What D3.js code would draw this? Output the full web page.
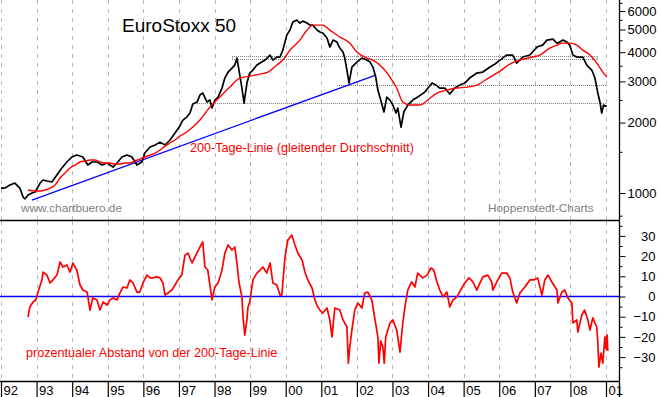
<!DOCTYPE html>
<html>
<head>
<meta charset="utf-8">
<script src="https://cdn.jsdelivr.net/npm/d3@7"></script>
<style>
  html, body { margin: 0; padding: 0; background: #fff; }
  svg { display: block; }
  text { font-family: "Liberation Sans", Arial, sans-serif; }
</style>
</head>
<body>
<svg id="chart" width="660" height="397"></svg>
<script>
// ---------- DATA ----------
const yearTicks = [1992,1993,1994,1995,1996,1997,1998,1999,2000,2001,2002,2003,2004,2005,2006,2007,2008,2009];
const yearLabels = ["92","93","94","95","96","97","98","99","00","01","02","03","04","05","06","07","08","01"];

const priceMajorTicks = [1000,2000,3000,4000,5000,6000];
const priceMinorTicks = [800,1500,2500,3500,4500,5500,6500];
const devMajorTicks = [-30,-20,-10,0,10,20,30];
const devMinorTicks = [-35,-25,-15,-5,5,15,25,35];

// EuroStoxx 50 (year, index points)
const euroStoxx = [
 [1992.00,1050],[1992.11,1050],[1992.25,1082],[1992.39,1103],[1992.53,1050],[1992.62,961],[1992.67,943],
 [1992.76,980],[1992.87,1000],[1992.96,1010],[1993.10,1103],[1993.18,1137],[1993.29,1125],[1993.43,1114],
 [1993.57,1194],[1993.71,1279],[1993.85,1357],[1993.99,1425],[1994.13,1453],[1994.30,1425],[1994.44,1317],
 [1994.56,1357],[1994.70,1357],[1994.84,1317],[1994.98,1344],[1995.15,1291],[1995.26,1344],[1995.40,1425],
 [1995.54,1453],[1995.68,1425],[1995.82,1317],[1995.96,1357],[1996.04,1482],[1996.19,1573],[1996.33,1604],
 [1996.47,1650],[1996.61,1604],[1996.75,1685],[1996.89,1804],[1997.03,1940],[1997.11,2050],[1997.22,2112],
 [1997.31,2197],[1997.39,2400],[1997.51,2448],[1997.59,2623],[1997.67,2675],[1997.79,2448],[1997.87,2497],
 [1997.93,2308],[1998.01,2497],[1998.10,2572],[1998.21,2810],[1998.29,3101],[1998.38,3289],[1998.49,3421],
 [1998.57,3524],[1998.63,3776],[1998.71,3190],[1998.77,2810],[1998.83,2424],[1998.91,2952],[1998.99,3257],
 [1999.08,3355],[1999.19,3524],[1999.28,3593],[1999.42,3701],[1999.56,3889],[1999.64,3701],[1999.75,3813],
 [1999.84,3813],[1999.92,4090],[2000.03,4730],[2000.12,4973],[2000.20,5381],[2000.31,5488],[2000.40,5328],
 [2000.48,5430],[2000.60,5328],[2000.68,5223],[2000.76,5223],[2000.88,4973],[2000.96,4876],[2001.04,4829],
 [2001.16,4597],[2001.24,4207],[2001.33,4506],[2001.44,4418],[2001.52,4166],[2001.61,4006],[2001.66,3776],
 [2001.72,3355],[2001.78,2952],[2001.86,3455],[2002.00,3629],[2002.14,3776],[2002.28,3701],[2002.37,3629],
 [2002.45,3455],[2002.53,3131],[2002.59,2755],[2002.67,2497],[2002.76,2220],[2002.84,2572],[2002.93,2497],
 [2003.01,2377],[2003.10,2197],[2003.15,2308],[2003.24,1914],[2003.32,2220],[2003.43,2377],[2003.57,2497],
 [2003.71,2572],[2003.91,2701],[2004.11,2952],[2004.22,2894],[2004.33,2810],[2004.47,2810],[2004.61,2650],
 [2004.75,2810],[2004.89,2894],[2005.03,2952],[2005.17,3101],[2005.37,3257],[2005.54,3289],[2005.74,3455],
 [2005.88,3560],[2006.02,3701],[2006.21,3889],[2006.38,3889],[2006.49,3593],[2006.66,3813],[2006.86,3889],
 [2007.06,4207],[2007.22,4290],[2007.34,4506],[2007.51,4550],[2007.62,4375],[2007.70,4418],[2007.79,4506],
 [2007.90,4418],[2007.98,4290],[2008.07,3889],[2008.18,3813],[2008.35,3813],[2008.46,3524],[2008.60,3355],
 [2008.69,3101],[2008.77,2675],[2008.83,2448],[2008.88,2197],[2008.93,2377],[2009.02,2350]
];

// 200-day moving average (year, index points)
const movingAvg200 = [
 [1992.76,1030],[1992.96,1020],[1993.10,1020],[1993.24,1030],[1993.38,1050],[1993.52,1082],[1993.66,1159],
 [1993.80,1218],[1993.94,1279],[1994.08,1317],[1994.22,1357],[1994.36,1370],[1994.50,1384],[1994.64,1384],
 [1994.78,1357],[1994.92,1344],[1995.06,1344],[1995.20,1330],[1995.34,1330],[1995.48,1344],[1995.62,1344],
 [1995.76,1370],[1995.90,1397],[1996.04,1425],[1996.19,1453],[1996.33,1482],[1996.47,1527],[1996.61,1587],
 [1996.75,1636],[1996.89,1685],[1997.03,1752],[1997.22,1823],[1997.39,1914],[1997.59,2051],[1997.87,2329],
 [1998.15,2572],[1998.43,2836],[1998.71,3101],[1998.99,3162],[1999.28,3225],[1999.50,3289],[1999.75,3524],
 [1999.92,3701],[2000.12,4081],[2000.40,4506],[2000.60,4973],[2000.76,5223],[2001.04,5223],[2001.24,4973],
 [2001.52,4645],[2001.80,4375],[2002.00,4006],[2002.28,3776],[2002.45,3701],[2002.73,3421],[2002.93,3131],
 [2003.12,2810],[2003.29,2448],[2003.49,2377],[2003.77,2377],[2003.99,2497],[2004.25,2675],[2004.53,2755],
 [2004.81,2810],[2005.09,2836],[2005.37,2894],[2005.74,3131],[2006.02,3322],[2006.30,3558],[2006.58,3701],
 [2006.94,3813],[2007.14,3889],[2007.42,4166],[2007.62,4290],[2007.79,4375],[2007.98,4375],[2008.18,4290],
 [2008.35,4081],[2008.55,3889],[2008.74,3593],[2008.91,3289],[2009.02,3131]
];

// Percentage distance from the 200-day line (year, %)
const deviation = [
 [1992.76,-10.1],[1992.81,-5.2],[1992.90,-2.7],[1992.98,-1.7],[1993.04,2.2],[1993.15,8.2],[1993.18,12.1],
 [1993.29,10.6],[1993.38,6.7],[1993.46,8.2],[1993.57,10.6],[1993.66,17.1],[1993.74,14.6],[1993.85,15.6],
 [1993.94,12.1],[1994.02,16.6],[1994.13,13.1],[1994.22,5.7],[1994.30,3.2],[1994.42,2.2],[1994.50,-6.7],
 [1994.58,-0.7],[1994.70,-1.7],[1994.78,-6.7],[1994.87,-2.7],[1994.98,-4.2],[1995.06,-1.7],[1995.15,-0.7],
 [1995.26,-1.7],[1995.34,1.7],[1995.43,4.7],[1995.54,4.2],[1995.62,8.2],[1995.71,6.7],[1995.82,2.2],
 [1995.90,2.2],[1995.99,6.7],[1996.10,10.6],[1996.19,9.2],[1996.27,9.2],[1996.38,9.7],[1996.47,9.2],
 [1996.55,6.7],[1996.61,0.7],[1996.69,1.7],[1996.80,3.2],[1996.89,5.7],[1996.97,8.2],[1997.08,10.6],
 [1997.17,20.5],[1997.25,21.5],[1997.37,16.6],[1997.45,19.6],[1997.59,24.5],[1997.67,27.0],[1997.73,14.6],
 [1997.81,13.1],[1997.93,-1.7],[1998.01,4.7],[1998.10,6.7],[1998.21,13.1],[1998.29,21.5],[1998.38,25.5],
 [1998.49,23.0],[1998.57,24.5],[1998.63,16.6],[1998.69,6.7],[1998.77,-0.2],[1998.80,-10.1],[1998.85,-19.1],
 [1998.91,-11.6],[1998.94,-5.2],[1998.99,-2.7],[1999.08,8.2],[1999.19,11.6],[1999.28,13.1],[1999.36,14.6],
 [1999.47,11.6],[1999.56,16.6],[1999.64,6.7],[1999.75,5.7],[1999.84,0.7],[1999.89,0.7],[1999.98,19.6],
 [2000.06,28.0],[2000.17,30.4],[2000.26,25.5],[2000.34,21.5],[2000.46,18.1],[2000.54,12.1],[2000.62,8.2],
 [2000.74,4.2],[2000.82,-1.7],[2000.90,-5.2],[2000.96,-6.7],[2001.04,-8.2],[2001.16,-5.7],[2001.24,-11.6],
 [2001.30,-20.0],[2001.38,-5.7],[2001.52,-6.7],[2001.61,-11.6],[2001.72,-15.1],[2001.76,-33.0],[2001.80,-25.0],
 [2001.86,-16.6],[2001.94,-6.7],[2002.03,-3.2],[2002.14,-5.7],[2002.22,1.7],[2002.31,2.2],[2002.42,-1.7],
 [2002.51,-11.6],[2002.59,-20.0],[2002.62,-33.0],[2002.67,-22.0],[2002.73,-25.0],[2002.77,-33.0],[2002.81,-20.0],
 [2002.93,-13.1],[2003.01,-11.6],[2003.12,-16.6],[2003.21,-27.5],[2003.29,-13.1],[2003.35,-5.2],[2003.43,3.2],
 [2003.54,7.2],[2003.63,4.7],[2003.71,11.6],[2003.85,9.2],[2003.97,10.6],[2004.08,14.1],[2004.16,13.1],
 [2004.25,7.2],[2004.33,3.2],[2004.42,-0.2],[2004.53,2.2],[2004.61,-5.2],[2004.70,-1.7],[2004.81,-0.2],
 [2004.95,4.2],[2005.03,6.7],[2005.15,9.2],[2005.26,7.2],[2005.37,3.2],[2005.46,6.7],[2005.54,9.7],
 [2005.68,10.6],[2005.79,7.2],[2005.82,3.2],[2005.93,7.2],[2006.07,11.6],[2006.21,11.6],[2006.30,9.2],
 [2006.38,2.2],[2006.49,-3.2],[2006.58,1.7],[2006.72,4.7],[2006.86,8.2],[2006.97,8.2],[2007.08,9.2],
 [2007.20,0.7],[2007.28,8.2],[2007.37,10.6],[2007.48,7.2],[2007.62,3.2],[2007.65,-3.2],[2007.76,2.2],
 [2007.84,3.2],[2007.93,-0.7],[2008.04,-3.2],[2008.07,-13.1],[2008.18,-11.6],[2008.21,-17.6],[2008.32,-9.2],
 [2008.40,-6.7],[2008.49,-11.6],[2008.55,-16.6],[2008.63,-10.6],[2008.74,-15.1],[2008.77,-22.5],[2008.80,-35.0],
 [2008.86,-28.0],[2008.91,-33.0],[2008.97,-20.0],[2009.00,-26.0],[2009.03,-19.0],[2009.05,-27.0]
];

// Blue trend line (year, index points)
const trendLine = [[1992.87,933],[2002.53,3194]];

// Horizontal dotted resistance/support levels
const levelValues = [3870, 3727, 2886, 2417];
const levelStart  = [1998.49, 1998.49, 2001.44, 1997.39];
const levelEnd    = [2008.74, 2008.74, 2009.03, 2009.03];

const titleText = "EuroStoxx 50";
const maLabel = "200-Tage-Linie (gleitender Durchschnitt)";
const devLabel = "prozentualer Abstand von der 200-Tage-Linie";
const sourceLeft = "www.chartbuero.de";
const sourceRight = "Hoppenstedt-Charts";

// ---------- LAYOUT ----------
const svg = d3.select("#chart");
const W = 660, H = 397;
const axisX = 619;
const topPanel = {top: 0, bottom: 220};
const botPanel = {top: 221, bottom: 381};

const x = d3.scaleLinear().domain([1992, 2009]).range([1, 606]);
const yTop = d3.scaleLog().domain([1000, 6000]).range([193, 11]);
const yBot = d3.scaleLinear().domain([0, 30]).range([296.5, 235.9]);

svg.append("rect").attr("width", W).attr("height", H).attr("fill", "#fff");

const defs = svg.append("defs");
defs.append("clipPath").attr("id", "clipTop").append("rect")
  .attr("x", 0).attr("y", topPanel.top).attr("width", axisX).attr("height", topPanel.bottom - topPanel.top);
defs.append("clipPath").attr("id", "clipBot").append("rect")
  .attr("x", 0).attr("y", botPanel.top).attr("width", axisX).attr("height", botPanel.bottom - botPanel.top);

// vertical gridlines
const grid = svg.append("g");
[topPanel, botPanel].forEach(p => {
  grid.selectAll(null).data(yearTicks).enter().append("line")
    .attr("x1", d => Math.round(x(d)) + 0.5).attr("x2", d => Math.round(x(d)) + 0.5)
    .attr("y1", p.top).attr("y2", p.bottom)
    .attr("stroke", "#b8b8b8").attr("stroke-width", 1).attr("stroke-dasharray", "4,5");
});

// ---------- TOP PANEL ----------
const gTop = svg.append("g").attr("clip-path", "url(#clipTop)");

levelValues.forEach((v, i) => {
  gTop.append("line")
    .attr("x1", x(levelStart[i])).attr("x2", x(levelEnd[i]))
    .attr("y1", Math.round(yTop(v)) + 0.5).attr("y2", Math.round(yTop(v)) + 0.5)
    .attr("stroke", "#7a7a7a").attr("stroke-width", 1).attr("stroke-dasharray", "1,1");
});
[levelStart[0], levelEnd[0]].forEach(t => {
  gTop.append("line")
    .attr("x1", Math.round(x(t)) + 0.5).attr("x2", Math.round(x(t)) + 0.5)
    .attr("y1", Math.round(yTop(levelValues[0])) + 0.5).attr("y2", Math.round(yTop(levelValues[1])) + 0.5)
    .attr("stroke", "#7a7a7a").attr("stroke-width", 1).attr("stroke-dasharray", "1,1");
});

const lineTop = d3.line().x(d => x(d[0])).y(d => yTop(d[1]));

gTop.append("path").datum(trendLine).attr("d", lineTop)
  .attr("fill", "none").attr("stroke", "#0000ff").attr("stroke-width", 1.3);

gTop.append("path").datum(euroStoxx).attr("d", lineTop)
  .attr("fill", "none").attr("stroke", "#000").attr("stroke-width", 1.7).attr("stroke-linejoin", "round");

gTop.append("path").datum(movingAvg200)
  .attr("d", d3.line().x(d => x(d[0])).y(d => yTop(d[1])).curve(d3.curveMonotoneX))
  .attr("fill", "none").attr("stroke", "#ff0000").attr("stroke-width", 1.4);

svg.append("text").attr("x", 122).attr("y", 32).attr("font-size", 19).attr("fill", "#000").text(titleText);
svg.append("text").attr("x", 190).attr("y", 152).attr("font-size", 12.6).attr("fill", "#ff0000").text(maLabel);
svg.append("text").attr("x", 21).attr("y", 212).attr("font-size", 11.8).attr("fill", "#808080").text(sourceLeft);
svg.append("text").attr("x", 488).attr("y", 212).attr("font-size", 11.8).attr("fill", "#808080").text(sourceRight);

// ---------- BOTTOM PANEL ----------
const gBot = svg.append("g").attr("clip-path", "url(#clipBot)");

gBot.append("line")
  .attr("x1", 0).attr("x2", axisX)
  .attr("y1", yBot(0)).attr("y2", yBot(0))
  .attr("stroke", "#0000ff").attr("stroke-width", 1.5);

gBot.append("path").datum(deviation)
  .attr("d", d3.line().x(d => x(d[0])).y(d => yBot(d[1])))
  .attr("fill", "none").attr("stroke", "#ff0000").attr("stroke-width", 1.7).attr("stroke-linejoin", "round");

svg.append("text").attr("x", 26).attr("y", 357).attr("font-size", 12.6).attr("fill", "#ff0000").text(devLabel);

// ---------- FRAME / AXES ----------
svg.append("line").attr("x1", 0).attr("x2", axisX).attr("y1", 220.5).attr("y2", 220.5)
  .attr("stroke", "#000").attr("stroke-width", 1.3);
svg.append("line").attr("x1", 0).attr("x2", axisX).attr("y1", 381.5).attr("y2", 381.5)
  .attr("stroke", "#000").attr("stroke-width", 1.5);
svg.append("line").attr("x1", axisX + 0.5).attr("x2", axisX + 0.5).attr("y1", 0).attr("y2", H)
  .attr("stroke", "#000").attr("stroke-width", 1.3);

function styleAxis(g) {
  g.select(".domain").remove();
  g.selectAll(".tick line").attr("stroke", "#000").attr("stroke-width", 1);
  g.selectAll("text").attr("font-family", "'Liberation Sans', Arial, sans-serif")
    .attr("font-size", 13).attr("fill", "#000");
}

svg.append("g").attr("transform", `translate(${axisX + 0.5},0)`)
  .call(d3.axisRight(yTop).tickValues(priceMinorTicks).tickSize(3).tickFormat(""))
  .call(styleAxis);
svg.append("g").attr("transform", `translate(${axisX + 0.5},0)`)
  .call(d3.axisRight(yTop).tickValues(priceMajorTicks).tickSize(6).tickPadding(2).tickFormat(d3.format("d")))
  .call(styleAxis);

svg.append("g").attr("transform", `translate(${axisX + 0.5},0)`)
  .call(d3.axisRight(yBot).tickValues(devMinorTicks).tickSize(3).tickFormat(""))
  .call(styleAxis);
const devAxis = svg.append("g").attr("transform", `translate(${axisX + 0.5},0)`)
  .call(d3.axisRight(yBot).tickValues(devMajorTicks).tickSize(6).tickPadding(2).tickFormat(d3.format("d")))
  .call(styleAxis);
devAxis.selectAll("text").attr("text-anchor", "end").attr("x", 36);

const xAxisG = svg.append("g").attr("transform", `translate(0,${botPanel.bottom})`)
  .call(d3.axisBottom(x).tickValues(yearTicks).tickSize(16)
    .tickFormat((d, i) => yearLabels[i]))
  .call(styleAxis);
xAxisG.selectAll(".tick line").attr("stroke-width", 1.2);
xAxisG.selectAll("text").attr("text-anchor", "start").attr("x", 2).attr("y", 14).attr("dy", 0);
</script>
</body>
</html>
